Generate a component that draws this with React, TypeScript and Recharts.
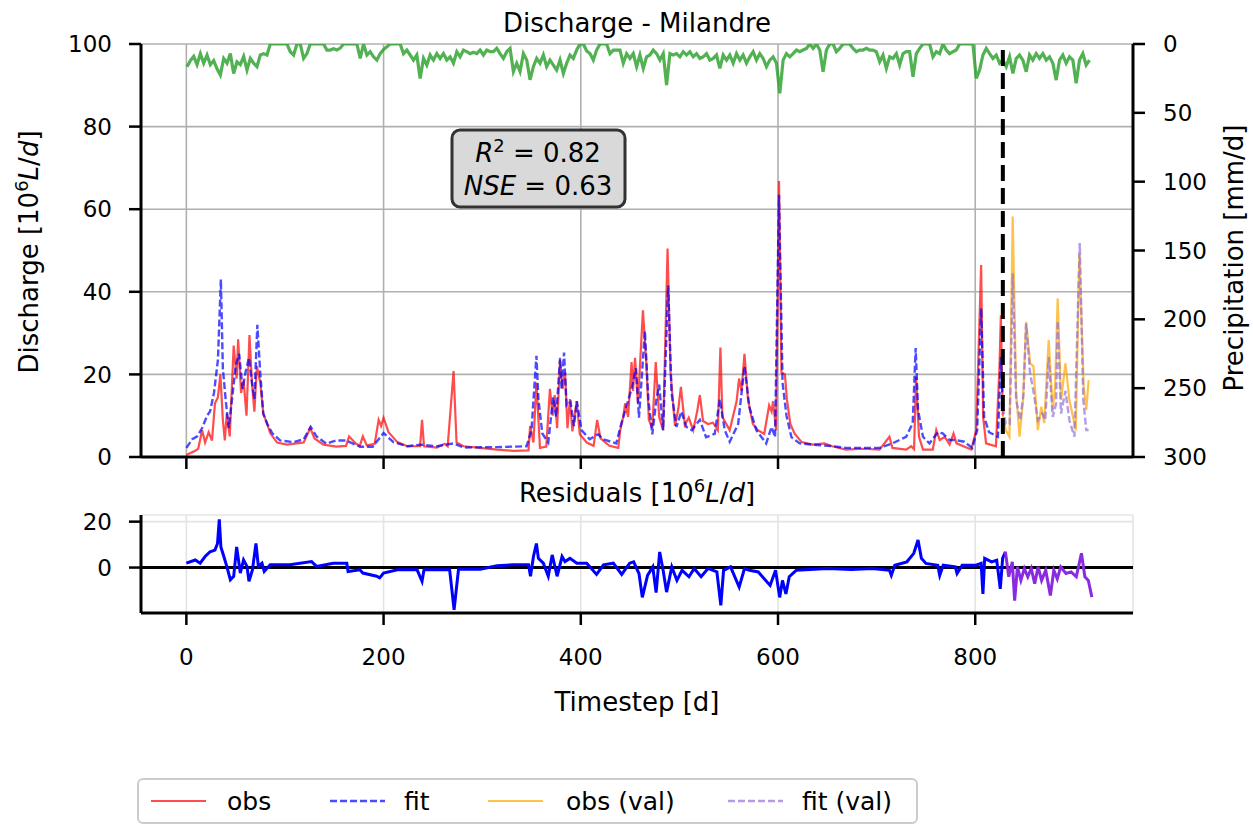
import { CartesianGrid, Line, LineChart, ReferenceLine, XAxis, YAxis } from 'recharts';

const FONT = '"DejaVu Sans", Verdana, sans-serif';

// axes
const X_DOMAIN: [number, number] = [-46, 960];
const X_TICKS = [0, 200, 400, 600, 800];
const Q_TICKS = [0, 20, 40, 60, 80, 100];
const P_TICKS = [0, 50, 100, 150, 200, 250, 300];
const RES_DOMAIN: [number, number] = [-19.8, 22.9];
const RES_TICKS = [0, 20];
const SPLIT_T = 828;

// discharge [10^6 L/d], calibration period: [timestep, value]
const OBS: [number, number][] = [
  [0, 0.5], [9, 1.5], [12, 2], [16, 6.5], [19, 3.5], [22.6, 6], [26, 4], [29, 13], [32, 14.5], [34.5, 20],
  [37, 9], [39, 4], [41, 10.5], [44, 5], [48, 27], [51, 19], [52.5, 28.5], [55.5, 15.5], [58, 18.5], [61, 10],
  [64, 29.5], [66.5, 18], [69, 11], [71.5, 22], [75, 18], [78, 10.5], [82, 8], [85, 5.8], [92, 3.5], [102, 3],
  [112, 3.3], [119, 3.5], [125.6, 7], [130, 4.5], [139, 3], [152, 2.5], [162, 2.7], [165, 5], [172, 3.2], [176, 2.8],
  [179, 5], [183, 2.8], [191, 3.2], [195, 9], [197.5, 7.5], [200, 9.5], [205, 6], [214, 3.6], [224, 2.6], [237, 2.6],
  [239, 9], [241, 2.6], [254, 2.3], [262, 3.2], [265, 2.6], [271, 20.8], [274, 3.5], [281, 2.6], [298, 2.2], [315, 1.8],
  [332, 1.5], [347, 1.6], [348.6, 7.5], [352, 3.5], [355, 18], [358.6, 2.2], [365, 2.5], [368.7, 16.5], [371.5, 10], [373.5, 15],
  [376, 7], [378.9, 23.5], [381.5, 16.5], [384, 20.5], [386.5, 7], [389, 14], [391.5, 6.2], [395.8, 13.5], [399, 5.5], [406, 3.5],
  [413, 2.7], [416.6, 9], [420, 4.5], [429, 2.7], [438, 2.2], [440, 6.5], [443, 9.7], [445, 13], [448, 9.7], [451.5, 23],
  [453, 16], [455, 24], [458, 13], [463, 35.5], [466.5, 22.5], [469, 9], [472.5, 7], [476, 23], [479.5, 9.7], [483.5, 6.5],
  [488, 50.5], [491, 20.5], [495.5, 7.5], [499, 11.8], [501.5, 17], [505.5, 7.8], [509.5, 9.5], [514, 6.5], [518, 11], [520.7, 15],
  [524, 8.7], [529, 8], [534, 8.3], [539, 6.5], [541.6, 26.5], [543.6, 9.7], [551, 6.5], [558, 13.5], [560.5, 19], [563, 16],
  [566, 25], [569.5, 14], [574.5, 8], [579.6, 6.5], [586, 5.6], [591, 12.5], [593.5, 11], [595, 13.5], [598, 6.5], [601, 66.8],
  [603.5, 20.5], [607, 20], [609, 14], [612.5, 8], [617, 5.6], [624, 3.6], [635, 3], [647, 3.3], [655, 2.6], [669, 1.8],
  [686, 2], [703, 1.8], [713, 4.9], [716, 2.2], [730, 1.8], [735, 2.6], [738, 1.9], [740, 19.4], [743, 4.9], [747, 1.8],
  [757, 1.8], [760.5, 6.5], [764, 4.1], [769, 4.9], [774, 3], [778, 5.7], [781, 3.3], [788, 2.6], [796, 1.8], [801, 6.5],
  [806, 46.5], [808, 9.7], [811, 3.3], [821, 2.6], [824.6, 21.8], [826, 34.3], [828, 10],
];

const FIT: [number, number][] = [
  [0, 2.2], [6, 4.3], [11, 5], [16, 7], [21, 10], [24, 11], [28, 15.5], [32, 23.5], [35, 43], [37, 21.5],
  [40, 13.5], [43, 7], [47, 15.5], [50, 22], [53.5, 25], [57, 16.5], [60, 20.5], [63.5, 24], [67, 17], [69, 14],
  [72, 32], [75, 20], [78, 10.5], [82, 8], [87, 5.8], [95, 4], [109, 3.6], [119, 4.3], [126, 7.3], [132, 5],
  [142, 3.2], [152, 4], [162, 4], [176, 2.5], [189, 2.5], [200, 5.8], [210, 3.6], [224, 2.6], [237, 3], [254, 2.6],
  [271, 3.3], [281, 2.3], [315, 2.4], [345, 2.6], [350, 6.5], [355, 24.5], [357, 14], [361, 5.7], [367, 3.5], [372, 14.5],
  [375, 9.7], [379, 24], [380.5, 16.5], [383, 25.3], [385.6, 12.5], [389.6, 13.3], [393, 7.5], [396, 13.5], [400.7, 6.5], [409, 4.3],
  [417.6, 5.5], [422.6, 4.3], [436, 3.3], [441, 8], [446, 12], [451.5, 16.5], [456, 21.5], [459, 9.5], [465, 30.5], [468.5, 14],
  [472.5, 5.5], [476.7, 14], [479.5, 17.5], [483.5, 6.5], [488.6, 41.5], [492, 15.5], [497, 7.3], [502, 11], [507, 7.3], [512.5, 6.5],
  [520.7, 9], [527, 4.8], [535.8, 5.6], [541, 14], [546, 6.5], [551, 3.7], [559.6, 8], [566, 22], [571, 12], [578, 6.5],
  [588, 3.3], [593.5, 7.3], [597, 4.8], [601, 63.5], [604.6, 18], [608.6, 10], [613.6, 4.8], [622, 3.3], [635.5, 3], [655.7, 2.6],
  [669, 2.2], [703, 2.2], [716, 3.3], [730, 4.9], [736.6, 8.2], [739.6, 26.4], [742, 11.4], [747, 4.9], [753.6, 3.3], [762, 6],
  [767, 5.7], [774, 4.1], [780, 4.1], [789, 3.7], [797, 2.2], [802, 6.5], [806, 36], [809, 9.7], [814, 6], [823, 4.9],
  [826, 24.2], [828, 12],
];

// validation period
const OBS_VAL: [number, number][] = [
  [828, 10], [831, 6.5], [834.7, 4.9], [838, 58.2], [841.5, 15.4], [845, 4.9], [848.5, 13.8], [851.6, 32.7], [855.7, 22.7], [859, 22],
  [863.5, 6.5], [867, 12.2], [870, 8.2], [874.5, 28.3], [878.6, 11.4], [881, 17], [883.6, 38.4], [887, 13.8], [891.5, 22.7], [895.5, 13.8],
  [902, 6.5], [905.6, 49.3], [910, 17], [912.6, 11.4], [915, 18.6],
];

const FIT_VAL: [number, number][] = [
  [828, 12], [831, 8], [835, 8], [838, 44.5], [841.5, 13.8], [845.6, 8.9], [849, 15.4], [851.6, 32.3], [855.7, 20.2], [859, 16],
  [863.5, 8.9], [868, 10.5], [871, 8.9], [874.5, 24.2], [878.6, 9.7], [882, 12.9], [883.6, 33], [887, 10.5], [891.5, 16], [895.5, 8.9],
  [900.6, 4.9], [906, 51.8], [909.6, 13.8], [912.6, 6.5], [915, 6.5],
];

// residuals [10^6 L/d]
const RES: [number, number][] = [
  [0, 1.9], [9, 3.3], [14, 1.9], [19, 4.8], [24, 6.9], [29, 7.6], [31.6, 10.5], [33.4, 21], [35, 9], [38, 4.8],
  [41, 0.5], [44.6, -5.3], [48, -3.8], [51, 9], [54.7, -2.4], [58, 3.3], [61.5, 0.5], [63.5, -6], [67, -1], [70.6, 10.5],
  [73, 0.5], [76.7, 1.9], [79, -1.7], [85, 1.2], [105, 1.2], [127, 2.6], [132, 0.5], [149, 1.9], [162.7, 1.9], [164, -1.7],
  [176, -1], [179, -2.4], [193, -3.8], [196, -4.5], [200, -2.4], [214, -1], [234, -1], [239, -6], [241, -1], [260, -1],
  [267, -1], [271.5, -18.4], [276, -0.7], [298, -0.7], [315, 0.8], [332, 1.2], [347, 1.2], [349, -3.8], [352, 4.8], [355, 10.5],
  [357, 4], [362, 1.9], [367, -3.8], [371, 5.5], [376, -3.8], [381, 4.8], [384, 2.6], [389, 4], [396, 1.9], [406, 1.9],
  [416, -3], [423, 1.2], [433, 1.9], [441.5, -3], [449.6, 1.9], [453.6, 2.5], [459, -2.6], [462.4, -13], [467.7, -3.4], [473, 0.3],
  [476.4, -10.9], [480, 6.8], [483.5, -1.2], [487, -10.7], [492.3, 0.3], [497.5, -5.6], [502.7, -1.2], [509.7, -4], [515, -0.4], [522, -4],
  [529, -0.4], [538, -1.9], [542, -16.5], [544.8, -1.2], [551.9, 0.3], [560.6, -8.5], [566, -0.4], [571, -1.2], [580, -1.9], [592, -7.8],
  [597.5, -1.2], [601.7, -13], [604.5, -5.6], [608, -11.5], [611.4, -4], [618.5, -1.2], [632.5, -0.9], [650, -0.4], [674.6, -0.9], [695.6, -0.4],
  [713, -1.2], [714.9, -3.4], [718.4, 1], [730.7, 2.5], [737.7, 6.2], [742, 12], [745.4, 4], [750, 1.8], [762, 1], [764, -3.4],
  [767.5, 1], [779.8, 0.3], [781.6, -2.6], [786.8, 1], [800.8, 1], [806, 1.8], [807.8, -11.5], [809.6, 4], [816.6, 2.5], [821.8, 3.2],
  [825.4, -9.3], [827.8, 4], [830.6, 6.9],
];

const RES_VAL: [number, number][] = [
  [830.6, 6.9], [834, -4], [837.6, 2.5], [840, -14.4], [842.8, 0.3], [846.3, -5.6], [849.8, -0.4], [853.3, -4], [856.8, -0.4], [860.3, -7],
  [863.8, 0.3], [867.3, -5.6], [871.5, -1.2], [876.2, -12.2], [879.7, -1.2], [883.2, -4.9], [886.7, 0.3], [892, -2.6], [897.2, -1.9], [902.5, -4],
  [907.7, 6.2], [911.2, -4], [914.7, -5.6], [918.3, -12.9],
];

// precipitation [mm/d], sampled every PRECIP_DT days from PRECIP_T0
const PRECIP_T0 = 0.7;
const PRECIP_DT = 3.377;
const PRECIP_MM = [
  16.5, 12, 9, 15, 7, 14, 8, 15, 12, 18,
  22.6, 10.5, 14, 7, 21.4, 13, 15, 9, 18.9, 10.5,
  14, 16.5, 8, 7, 8, 0, 0, 0, 0, 0,
  0, 5.6, 8, 0, 0, 10.5, 7, 0, 0, 0,
  0, 0, 4.4, 4.4, 3.5, 4.4, 3, 0, 0, 0,
  0, 0, 10.5, 0, 8, 5.6, 9.3, 11.7, 7, 4,
  2, 0, 0, 0, 0, 7, 4.4, 8, 11.7, 8,
  25, 10.5, 15.3, 8, 11.7, 7, 10.5, 7, 11.7, 9.3,
  14, 5.6, 9.3, 4.4, 5.6, 7, 6, 7, 4.4, 8,
  4.4, 5.6, 5.6, 3.2, 7, 10.5, 5.6, 3.2, 20, 14,
  20, 7, 11.7, 26, 16.5, 10.5, 14, 8, 16.5, 11.7,
  15.3, 19, 11.7, 21.4, 14, 8, 10.5, 4.4, 0, 0,
  5, 7, 11.7, 4.4, 0, 0, 0, 7, 4.4, 4.4, 4.4,
  14, 7, 10.5, 7, 16.5, 8, 17.7, 9.3, 8, 4.4,
  7, 11.7, 7, 29.8, 7, 8, 7, 9.3, 5.6, 8,
  5.6, 9.3, 7, 10.5, 9.3, 7, 11.7, 10.5, 8, 17.7,
  8, 11.7, 8, 14, 7, 11.7, 8, 14, 9.3, 5.6,
  11.7, 7, 10.5, 16.5, 11.7, 9.3, 14, 35.9, 11.7, 7,
  9.3, 7, 4.4, 5.6, 4.4, 3.2, 0, 3.2, 0, 4.4,
  20.2, 4.4, 0, 0, 5.6, 3.2, 0, 0, 0, 3.2,
  5.6, 4.4, 4.4, 3.2, 4.4, 4.4, 5.6, 12.9, 8, 17.7,
  9.3, 10.5, 7, 15.3, 7, 5.6, 5.6, 23.8, 7, 3.2,
  0, 0, 0, 9.3, 5.6, 7, 0, 4.4, 7, 5.6,
  4.4, 0, 0, 0, 0, 0, 25, 18.9, 8, 3.2,
  7, 10.5, 8, 14, 11.7, 16.5, 9.3, 21.4, 10.5, 8,
  11.7, 20.2, 8, 11.7, 7, 10.5, 7, 11.7, 9.3, 14,
  26.2, 11.7, 8, 14, 9.3, 11.7, 28.6, 11.7, 7, 15.3, 11.7,
];

const toPts = (arr: [number, number][]) => arr.map(([t, v]) => ({ t, v }));

const obsPts = toPts(OBS);
const fitPts = toPts(FIT);
const obsValPts = toPts(OBS_VAL);
const fitValPts = toPts(FIT_VAL);
const resPts = toPts(RES);
const resValPts = toPts(RES_VAL);
const precipPts = PRECIP_MM.map((p, i) => ({ t: PRECIP_T0 + i * PRECIP_DT, p }));

const tickStyle = { fontSize: 23, fill: '#000', fontFamily: FONT };
const frame = { stroke: '#000', strokeWidth: 3 };
const tickLine = { stroke: '#000', strokeWidth: 2.5 };

// ticks without labels (keeps tick lines and grid)
const NoLabel = () => <g />;

export default function App() {
  return (
    <div
      style={{
        position: 'fixed',
        left: 0,
        top: 0,
        width: 1253,
        height: 827,
        background: '#fff',
        fontFamily: FONT,
      }}
    >
      <div style={{ position: 'absolute', left: 0, top: 0 }}>
        <LineChart width={1253} height={480} margin={{ top: 44, right: 20, bottom: 0, left: 41 }}>
          <CartesianGrid stroke="#b0b0b0" strokeWidth={1.6} />
          <XAxis
            dataKey="t"
            type="number"
            domain={X_DOMAIN}
            ticks={X_TICKS}
            allowDataOverflow
            height={23}
            tick={NoLabel}
            tickSize={12}
            axisLine={frame}
            tickLine={tickLine}
          />
          <XAxis
            xAxisId="top"
            dataKey="t"
            type="number"
            orientation="top"
            domain={X_DOMAIN}
            allowDataOverflow
            height={0}
            tick={false}
            tickLine={false}
            axisLine={frame}
          />
          <YAxis
            domain={[0, 100]}
            ticks={Q_TICKS}
            allowDataOverflow
            width={100}
            tickSize={12}
            tickMargin={17}
            tick={tickStyle}
            axisLine={frame}
            tickLine={tickLine}
          />
          <YAxis
            yAxisId="p"
            orientation="right"
            domain={[0, 300]}
            reversed
            ticks={P_TICKS}
            allowDataOverflow
            width={100}
            tickSize={12}
            tickMargin={18}
            tick={tickStyle}
            axisLine={frame}
            tickLine={tickLine}
          />
          <Line
            yAxisId="p"
            data={precipPts}
            dataKey="p"
            stroke="#2ca02c"
            strokeOpacity={0.82}
            strokeWidth={3.2}
            dot={false}
            isAnimationActive={false}
          />
          <Line
            data={obsPts}
            dataKey="v"
            stroke="#ff0000"
            strokeOpacity={0.7}
            strokeWidth={2.2}
            dot={false}
            isAnimationActive={false}
          />
          <Line
            data={fitPts}
            dataKey="v"
            stroke="#0000ff"
            strokeOpacity={0.7}
            strokeWidth={2.4}
            strokeDasharray="7 3"
            dot={false}
            isAnimationActive={false}
          />
          <Line
            data={obsValPts}
            dataKey="v"
            stroke="#ffa500"
            strokeOpacity={0.7}
            strokeWidth={2.2}
            dot={false}
            isAnimationActive={false}
          />
          <Line
            data={fitValPts}
            dataKey="v"
            stroke="#9370db"
            strokeOpacity={0.7}
            strokeWidth={2.4}
            strokeDasharray="7 3"
            dot={false}
            isAnimationActive={false}
          />
          <ReferenceLine x={SPLIT_T} stroke="#000" strokeWidth={4} strokeDasharray="16 7" />
        </LineChart>
      </div>

      <div style={{ position: 'absolute', left: 0, top: 480 }}>
        <LineChart width={1253} height={200} margin={{ top: 35, right: 120, bottom: 7, left: 41 }}>
          <CartesianGrid stroke="#e4e4e4" strokeWidth={1.6} />
          <XAxis
            dataKey="t"
            type="number"
            domain={X_DOMAIN}
            ticks={X_TICKS}
            allowDataOverflow
            height={60}
            tickSize={12}
            tickMargin={24}
            tick={tickStyle}
            axisLine={frame}
            tickLine={tickLine}
          />
          <XAxis
            xAxisId="top"
            dataKey="t"
            type="number"
            orientation="top"
            domain={X_DOMAIN}
            allowDataOverflow
            height={0}
            tick={false}
            tickLine={false}
            axisLine={frame}
          />
          <YAxis
            domain={RES_DOMAIN}
            ticks={RES_TICKS}
            allowDataOverflow
            width={100}
            tickSize={12}
            tickMargin={17}
            tick={tickStyle}
            axisLine={frame}
            tickLine={tickLine}
          />
          <YAxis
            yAxisId="r"
            orientation="right"
            domain={[0, 1]}
            width={0}
            tick={false}
            tickLine={false}
            axisLine={frame}
          />
          <ReferenceLine y={0} stroke="#000" strokeWidth={3} />
          <Line
            data={resPts}
            dataKey="v"
            stroke="#0000ff"
            strokeWidth={3}
            dot={false}
            isAnimationActive={false}
          />
          <Line
            data={resValPts}
            dataKey="v"
            stroke="#8a2be2"
            strokeWidth={3}
            dot={false}
            isAnimationActive={false}
          />
        </LineChart>
      </div>

      <svg
        width={1253}
        height={827}
        style={{ position: 'absolute', left: 0, top: 0, pointerEvents: 'none' }}
        fontFamily={FONT}
      >
        <text x={637} y={32} fontSize={26} textAnchor="middle">
          Discharge - Milandre
        </text>
        <text transform="translate(38 252) rotate(-90)" fontSize={26} textAnchor="middle">
          Discharge [10<tspan dy={-10} fontSize={18}>6</tspan>
          <tspan dy={10} fontStyle="italic">L</tspan>/<tspan fontStyle="italic">d</tspan>]
        </text>
        <text transform="translate(1243 258) rotate(-90)" fontSize={26} textAnchor="middle">
          Precipitation [mm/d]
        </text>

        <rect x={452} y={130} width={173} height={77} rx={8} fill="#d9d9d9" stroke="#333" strokeWidth={3} />
        <text x={538} y={162} fontSize={26} textAnchor="middle">
          <tspan fontStyle="italic">R</tspan>
          <tspan dy={-10} fontSize={18}>2</tspan>
          <tspan dy={10}> = 0.82</tspan>
        </text>
        <text x={538} y={195} fontSize={26} textAnchor="middle">
          <tspan fontStyle="italic">NSE</tspan> = 0.63
        </text>

        <text x={637} y={502} fontSize={26} textAnchor="middle">
          Residuals [10<tspan dy={-10} fontSize={18}>6</tspan>
          <tspan dy={10} fontStyle="italic">L</tspan>/<tspan fontStyle="italic">d</tspan>]
        </text>
        <text x={637} y={711} fontSize={26} textAnchor="middle">
          Timestep [d]
        </text>

        <rect x={138} y={779} width={779} height={44} rx={5} fill="#fff" stroke="#cccccc" strokeWidth={2} />
        <line x1={151} x2={206} y1={801} y2={801} stroke="#ff0000" strokeOpacity={0.7} strokeWidth={2.2} />
        <text x={227} y={810} fontSize={25}>obs</text>
        <line x1={330} x2={385} y1={801} y2={801} stroke="#0000ff" strokeOpacity={0.7} strokeWidth={2.4} strokeDasharray="7 3" />
        <text x={404} y={810} fontSize={25}>fit</text>
        <line x1={488} x2={543} y1={801} y2={801} stroke="#ffa500" strokeOpacity={0.7} strokeWidth={2.2} />
        <text x={566} y={810} fontSize={25}>obs (val)</text>
        <line x1={728} x2={783} y1={801} y2={801} stroke="#9370db" strokeOpacity={0.7} strokeWidth={2.4} strokeDasharray="7 3" />
        <text x={802} y={810} fontSize={25}>fit (val)</text>
      </svg>
    </div>
  );
}
